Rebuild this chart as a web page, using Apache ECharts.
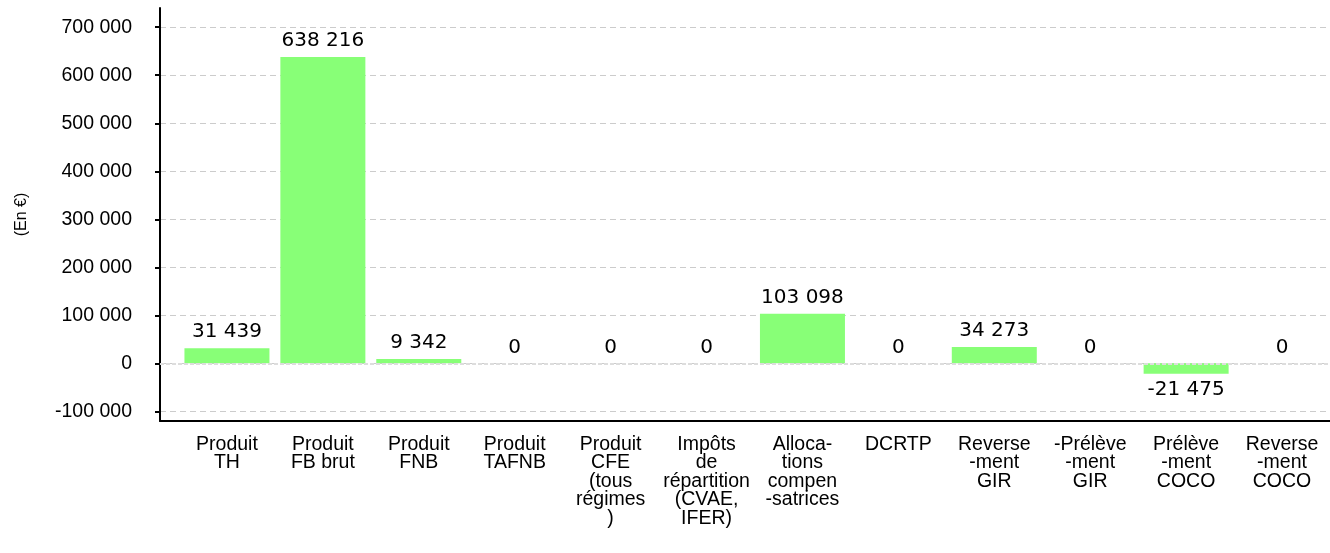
<!DOCTYPE html>
<html>
<head>
<meta charset="utf-8">
<script src="https://cdn.jsdelivr.net/npm/echarts@6/dist/echarts.min.js"></script>
<style>html,body{margin:0;padding:0;background:#fff}#c{width:1330px;height:553px}</style>
</head>
<body>
<div id="c"></div>
<script>
const categories = [
  "Produit\nTH", "Produit\nFB brut", "Produit\nFNB", "Produit\nTAFNB",
  "Produit\nCFE\n(tous\nrégimes\n)", "Impôts\nde\nrépartition\n(CVAE,\nIFER)",
  "Alloca-\ntions\ncompen\n-satrices", "DCRTP", "Reverse\n-ment\nGIR",
  "-Prélève\n-ment\nGIR", "Prélève\n-ment\nCOCO", "Reverse\n-ment\nCOCO"
];
const values = [31439, 638216, 9342, 0, 0, 0, 103098, 0, 34273, 0, -21475, 0];
const yTicks = [-100000, 0, 100000, 200000, 300000, 400000, 500000, 600000, 700000];
const yName = "(En €)";

function fmt(v) {
  return String(v).replace(/\B(?=(\d{3})+(?!\d))/g, ' ');
}

const chart = echarts.init(document.getElementById('c'));
const idx = categories.map((_, i) => i);
chart.setOption({
  animation: false,
  grid: { left: 160, right: 0, top: 8, bottom: 132, containLabel: false },
  xAxis: {
    type: 'value',
    min: -0.698,
    max: 11.5,
    axisLine: { show: true, onZero: false, lineStyle: { color: '#000', width: 2 } },
    axisTick: { show: false },
    splitLine: { show: false },
    axisLabel: {
      customValues: idx,
      formatter: v => categories[Math.round(v)] || '',
      color: '#000',
      fontFamily: 'Liberation Sans, Arial, sans-serif',
      fontSize: 19.5,
      lineHeight: 18.5,
      align: 'center',
      verticalAlign: 'top',
      margin: 14
    }
  },
  yAxis: {
    type: 'value',
    min: -120000,
    max: 740000,
    name: yName,
    nameLocation: 'middle',
    nameGap: 130,
    nameRotate: 90,
    nameTextStyle: { color: '#000', fontFamily: 'Liberation Sans, Arial, sans-serif', fontSize: 16 },
    axisLine: { show: true, onZero: false, lineStyle: { color: '#000', width: 2 } },
    axisTick: { show: true, customValues: yTicks, length: 5, lineStyle: { color: '#000', width: 2 } },
    axisLabel: {
      customValues: yTicks,
      formatter: v => fmt(v),
      color: '#000',
      fontFamily: 'Liberation Sans, Arial, sans-serif',
      fontSize: 19.5,
      margin: 28
    },
    splitLine: { show: true, lineStyle: { color: '#cccccc', type: [6, 4], width: 1 } }
  },
  series: [{
    type: 'bar',
    barWidth: 85,
    data: values.map((v, i) => ({
      value: [i, v],
      label: { position: v < 0 ? 'bottom' : 'top' }
    })),
    itemStyle: { color: '#88ff77' },
    label: {
      show: true,
      formatter: p => fmt(p.value[1]),
      color: '#000',
      fontFamily: 'DejaVu Sans, sans-serif',
      fontSize: 20,
      distance: 6
    },
    markLine: {
      silent: true,
      symbol: 'none',
      label: { show: false },
      lineStyle: { color: '#dddddd', type: [4, 2], width: 2 },
      data: [{ yAxis: 0 }]
    },
    z: 3
  }]
});
</script>
</body>
</html>
